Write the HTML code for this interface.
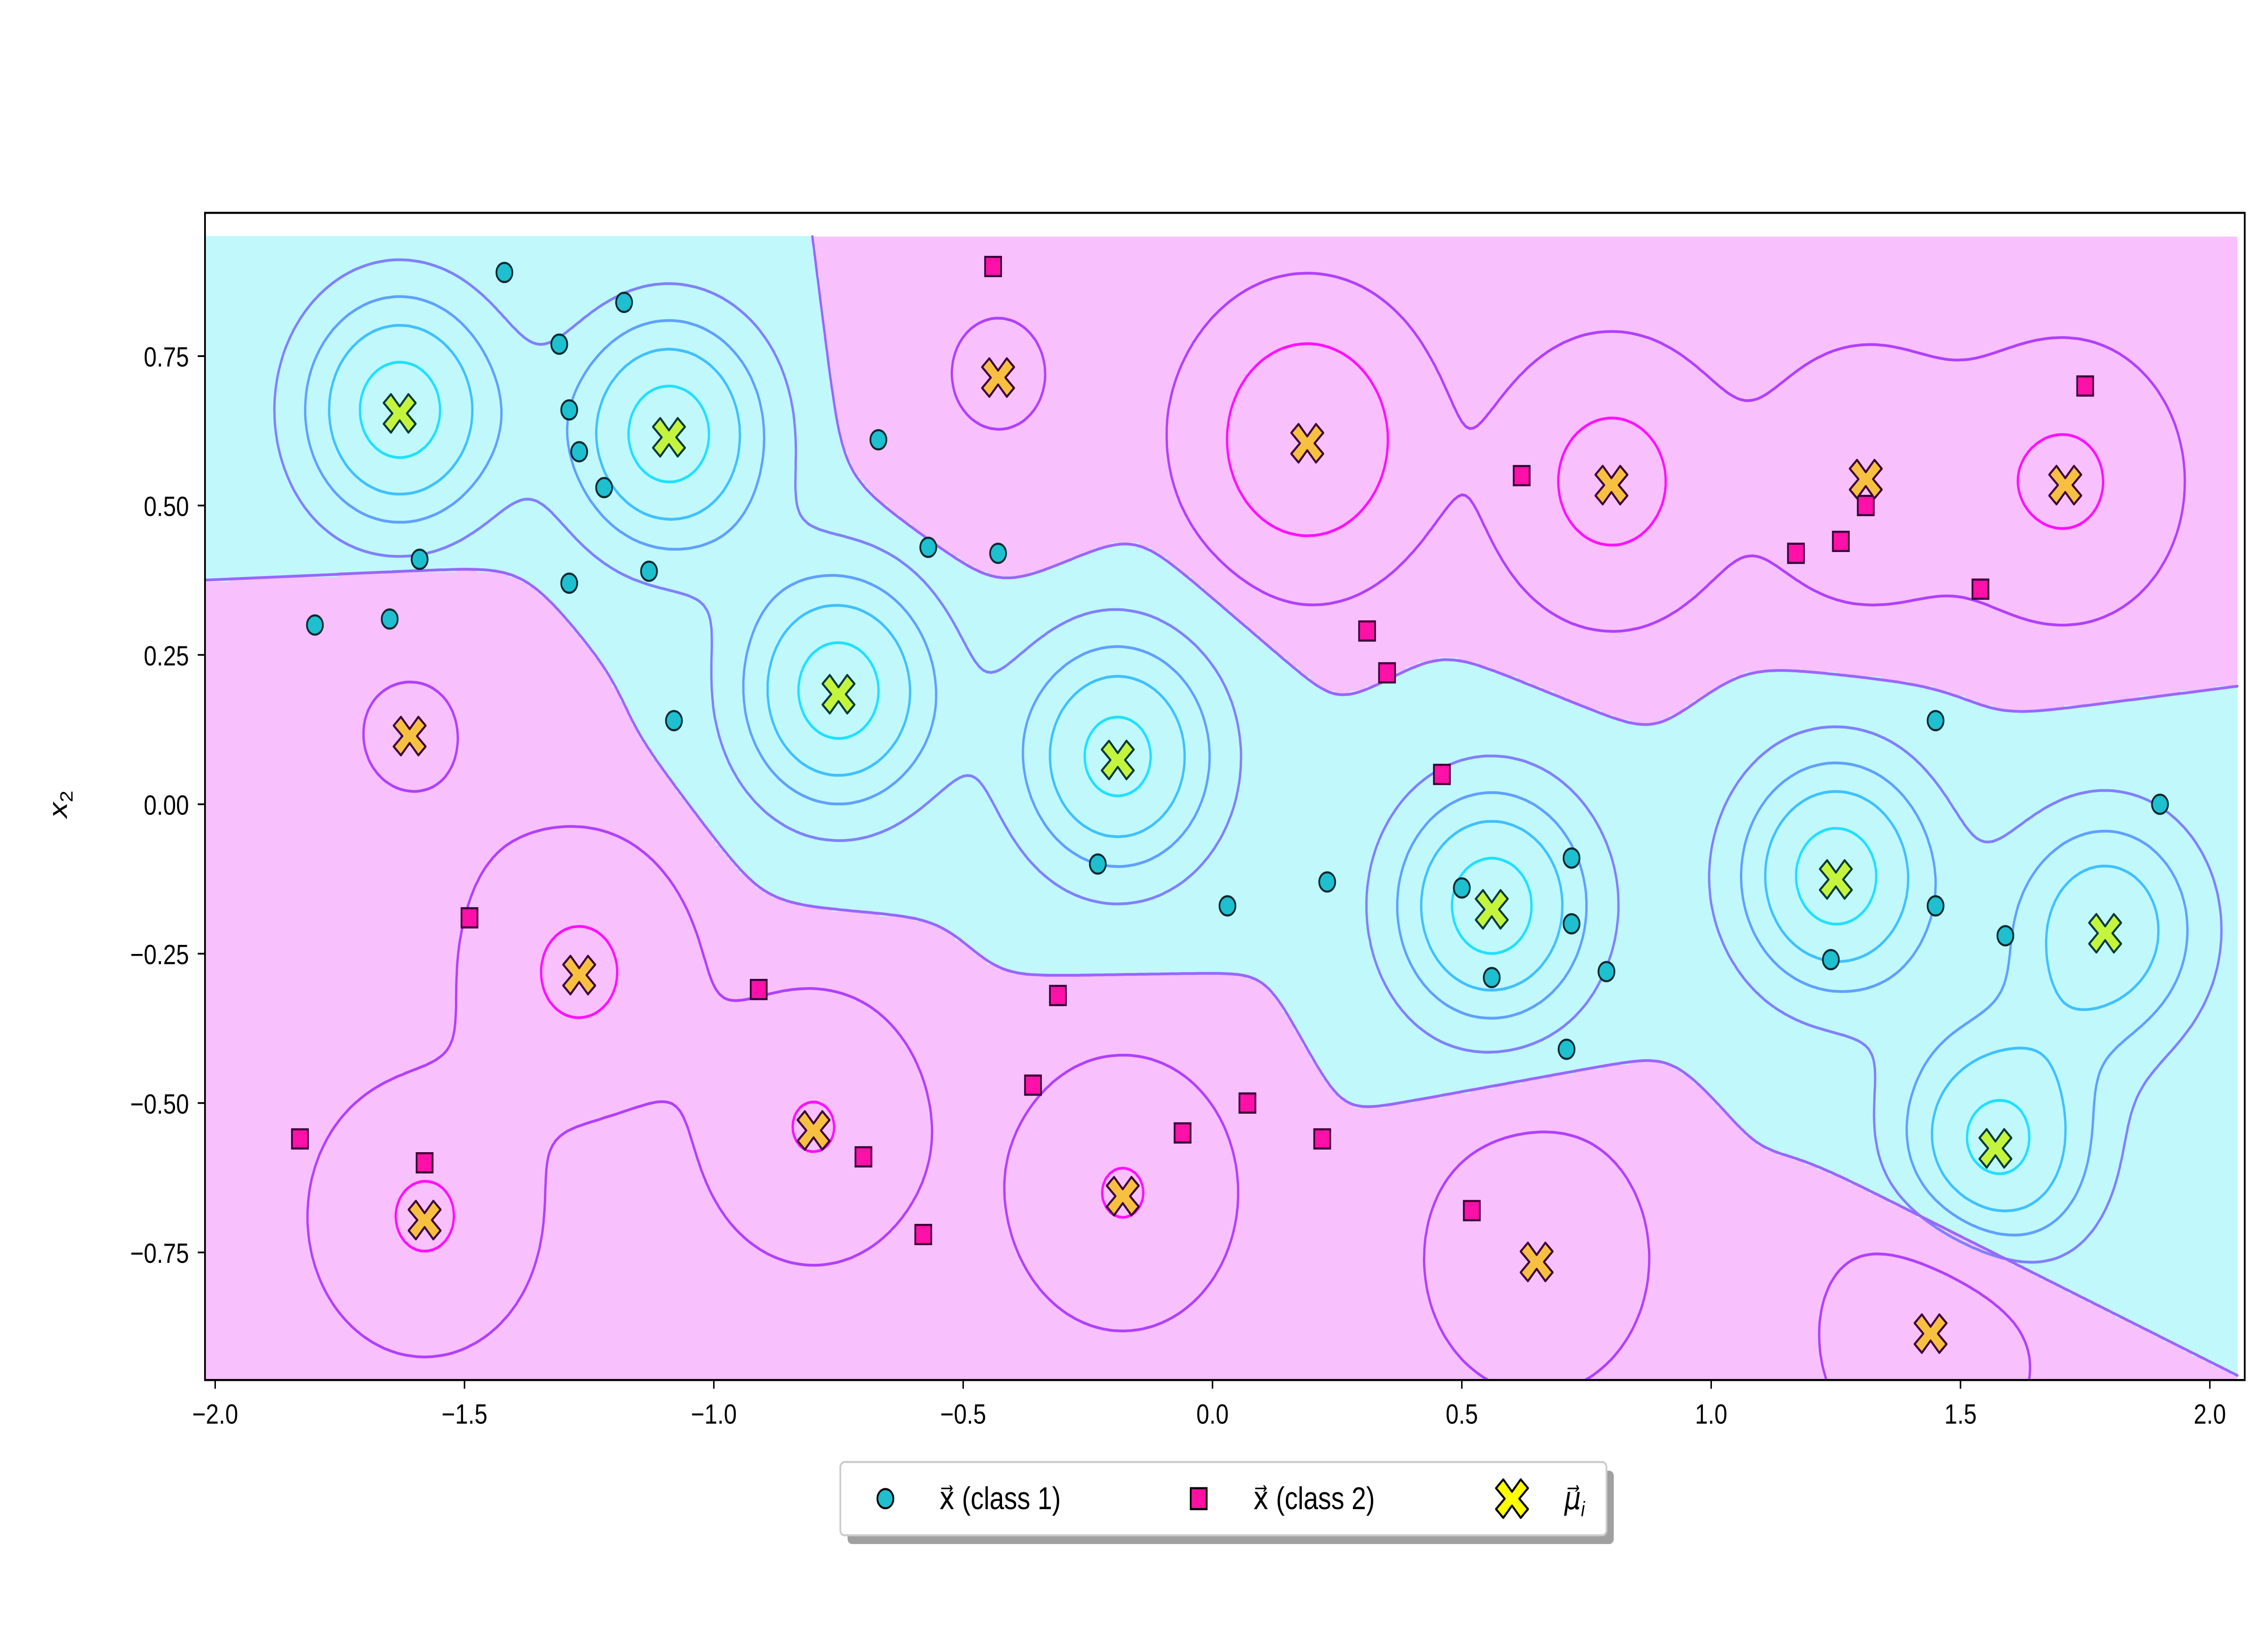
<!DOCTYPE html>
<html><head><meta charset="utf-8"><style>
html,body{margin:0;padding:0;background:#fff;overflow:hidden;width:100vw;height:100vh}
svg{display:block;width:100vw;height:100vh}
text{font-family:"Liberation Sans","DejaVu Sans",sans-serif;fill:#000}
</style></head><body>
<svg id="chart" viewBox="0 0 1560 936" preserveAspectRatio="none" xmlns="http://www.w3.org/2000/svg">
<rect x="0" y="0" width="1560" height="936" fill="#fff"/>
<g id="plot"></g>
<rect x="141" y="122" width="1403" height="669" fill="none" stroke="#000" stroke-width="1.2"/>
<g id="ticks"></g>
<text x="46" y="461" font-size="18" text-anchor="middle" transform="rotate(-90 46 461)" font-style="italic">x<tspan font-size="12" dy="4" font-style="normal">2</tspan></text>
<g id="legend">
  <rect x="583" y="843" width="527" height="42" rx="3" fill="#a0a0a0"/>
  <rect x="578" y="838" width="527" height="42" rx="3" fill="#fff" stroke="#ccc" stroke-width="1.2"/>
  <circle cx="609" cy="859" r="5.5" fill="#1ebfcf" stroke="#000" stroke-width="1.2"/>
  <text x="646" y="865" font-size="18">x⃗ (class 1)</text>
  <rect x="819" y="853" width="11" height="12" fill="#ff10a0" stroke="#000" stroke-width="1.2"/>
  <text x="862" y="865" font-size="18">x⃗ (class 2)</text>
  <path d="M1040,855 l-6,-7 l-5,5 l6,6 l-6,6 l5,5 l6,-7 l6,7 l5,-5 l-6,-6 l6,-6 l-5,-5z" fill="#ffff00" stroke="#000" stroke-width="1.3" stroke-linejoin="round"/>
  <text x="1076" y="865" font-size="18" font-style="italic">μ⃗<tspan font-size="12" dy="4">i</tspan></text>
</g>
</svg>
<script>
const class1X=[-1.42,-1.18,-1.31,-1.29,-1.27,-1.22,-0.67,-1.59,-1.29,-1.13,-0.57,-0.43,-1.80,-1.65,-1.08,-0.23,0.03,0.23,0.50,0.56,0.72,0.72,0.79,0.71,1.45,1.45,1.59,1.24,1.90];
const class1Y=[0.89,0.84,0.77,0.66,0.59,0.53,0.61,0.41,0.37,0.39,0.43,0.42,0.30,0.31,0.14,-0.10,-0.17,-0.13,-0.14,-0.29,-0.09,-0.20,-0.28,-0.41,0.14,-0.17,-0.22,-0.26,0.00];
const class2X=[-0.44,0.62,1.75,1.31,1.26,1.17,1.54,0.31,0.35,0.46,-1.49,-0.91,-0.31,-1.83,-1.58,-0.36,-0.70,-0.06,0.07,0.22,-0.58,0.52];
const class2Y=[0.90,0.55,0.70,0.50,0.44,0.42,0.36,0.29,0.22,0.05,-0.19,-0.31,-0.32,-0.56,-0.60,-0.47,-0.59,-0.55,-0.50,-0.56,-0.72,-0.68];
const center1X=[-1.63,-1.09,-0.75,-0.19,0.56,1.25,1.79,1.57];
const center1Y=[0.66,0.62,0.19,0.08,-0.17,-0.12,-0.21,-0.57];
const center1W=[1,1,1,0.95,1,1,0.8,0.95];
const center2X=[-0.43,0.19,0.80,1.31,1.71,-1.61,-1.27,-0.80,-1.58,-0.18,0.65,1.44];
const center2Y=[0.72,0.61,0.54,0.55,0.54,0.12,-0.28,-0.54,-0.69,-0.65,-0.76,-0.88];
const center2W=[0.15,0.87,0.6,0.4,0.52,0.15,0.52,0.47,0.49,0.47,0.44,0.44];
const xTicks=[-2.0,-1.5,-1.0,-0.5,0.0,0.5,1.0,1.5,2.0];
const xTickLabels=["−2.0","−1.5","−1.0","−0.5","0.0","0.5","1.0","1.5","2.0"];
const yTicks=[-0.75,-0.5,-0.25,0.0,0.25,0.5,0.75];
const yTickLabels=["−0.75","−0.50","−0.25","0.00","0.25","0.50","0.75"];
const contourLevels=[-0.45,-0.12,0.2,0.4,0.6,0.85];
const contourColors=["#ff10ff","#b040ff","#8080ff","#60a0ff","#40c0ff","#20e0ff"];

const NS="http://www.w3.org/2000/svg";
const X=v=>834+343*v, Y=v=>461-342.5*v;
const plot=document.getElementById('plot'), ticks=document.getElementById('ticks');
function mk(tag,attrs,parent){const e=document.createElementNS(NS,tag);for(const k in attrs)e.setAttribute(k,attrs[k]);parent.appendChild(e);return e;}
const S2=2*0.14*0.14;
function sums(x,y){let a=0,b=0,wa=0,wb=0;
  for(let i=0;i<center1X.length;i++){const dx=x-center1X[i],dy=y-center1Y[i];const g=Math.exp(-(dx*dx+dy*dy)/S2);a+=g;wa+=g*center1W[i];}
  for(let i=0;i<center2X.length;i++){const dx=x-center2X[i],dy=y-center2Y[i];const g=Math.exp(-(dx*dx+dy*dy)/S2);b+=g;wb+=g*center2W[i];}
  return [a,b,wa,wb];}
const x0=-2.02,x1=2.055,y0=-0.963,y1=0.95,step=0.008;
const nx=Math.ceil((x1-x0)/step)+1, ny=Math.ceil((y1-y0)/step)+1;
const G=[],R=[];
for(let j=0;j<ny;j++){const y=Math.min(y1,y0+j*step);G.push([]);R.push([]);
  for(let i=0;i<nx;i++){const x=Math.min(x1,x0+i*step);const s=sums(x,y);G[j].push(s[2]-s[3]);R[j].push(Math.log(s[0]+1e-300)-Math.log(s[1]+1e-300));}}
const gx=i=>Math.min(x1,x0+i*step), gy=j=>Math.min(y1,y0+j*step);
const bg=mk('rect',{x:X(x0),y:Y(y1),width:X(x1)-X(x0),height:Y(y0)-Y(y1),fill:'#f8c0fc'},plot);


const fillG=mk('g',{},plot);


for(let j=0;j<ny-1;j++){let start=-1;
  for(let i=0;i<=nx-1;i++){const pos=i<nx-1&&(R[j][i]+R[j+1][i]+R[j][i+1]+R[j+1][i+1])>0;
    if(pos&&start<0)start=i;
    if(!pos&&start>=0){mk('rect',{x:X(gx(start)),y:Y(gy(j+1))-0.3,width:X(gx(i))-X(gx(start))+0.3,height:Y(gy(j))-Y(gy(j+1))+0.6,fill:'#c0f8fc'},fillG);start=-1;}}}
function contour(F,L){let d='';
  for(let j=0;j<ny-1;j++)for(let i=0;i<nx-1;i++){
    const a=F[j][i]-L,b=F[j][i+1]-L,c=F[j+1][i+1]-L,e=F[j+1][i]-L;const pts=[];
    const xa=gx(i),xb=gx(i+1),ya=gy(j),yb=gy(j+1);
    if((a>0)!=(b>0)){const t=a/(a-b);pts.push([xa+t*(xb-xa),ya]);}
    if((b>0)!=(c>0)){const t=b/(b-c);pts.push([xb,ya+t*(yb-ya)]);}
    if((c>0)!=(e>0)){const t=c/(c-e);pts.push([xb+t*(xa-xb),yb]);}
    if((e>0)!=(a>0)){const t=e/(e-a);pts.push([xa,yb+t*(ya-yb)]);}
    for(let k=0;k+1<pts.length;k+=2)d+='M'+X(pts[k][0]).toFixed(1)+' '+Y(pts[k][1]).toFixed(1)+'L'+X(pts[k+1][0]).toFixed(1)+' '+Y(pts[k+1][1]).toFixed(1);}
  return d;}
for(let k=0;k<contourLevels.length;k++){
  const p=mk('path',{d:contour(G,contourLevels[k]),fill:'none',stroke:contourColors[k],'stroke-width':1.6,'stroke-linecap':'round'},plot);
  
  }
const bd=mk('path',{d:contour(R,0),fill:'none',stroke:'#9966ff','stroke-width':1.6,'stroke-linecap':'round'},plot);


for(let i=0;i<class1X.length;i++){
  const c=mk('circle',{cx:X(class1X[i]),cy:Y(class1Y[i]),r:5.5,fill:'#1ebfcf',stroke:'#0a2a30','stroke-width':1.2},plot);
  
  }
for(let i=0;i<class2X.length;i++){
  const c=mk('rect',{x:X(class2X[i])-5.5,y:Y(class2Y[i])-5.5,width:11,height:11,fill:'#ff10a8',stroke:'#3a0038','stroke-width':1.2},plot);
  
  }
function xm(cx,cy){return 'M'+cx+','+(cy-4)+' l-6,-7 l-5,5 l6,6 l-6,6 l5,5 l6,-7 l6,7 l5,-5 l-6,-6 l6,-6 l-5,-5z';}
for(let i=0;i<center1X.length;i++){
  const c=mk('path',{d:xm(X(center1X[i]),Y(center1Y[i])+2),fill:'#c4f53c',stroke:'#033a3a','stroke-width':1.3,'stroke-linejoin':'round'},plot);
  
  }
for(let i=0;i<center2X.length;i++){
  const c=mk('path',{d:xm(X(center2X[i]),Y(center2Y[i])+2),fill:'#f8c040',stroke:'#3a0038','stroke-width':1.3,'stroke-linejoin':'round'},plot);
  
  }
for(let i=0;i<xTicks.length;i++){const x=X(xTicks[i]);
  const t=mk('line',{x1:x,x2:x,y1:791,y2:796,stroke:'#000','stroke-width':1},ticks);
  
  
  const l=mk('text',{x:x,y:816,'font-size':16,'text-anchor':'middle'},ticks);l.textContent=xTickLabels[i];
  
  }
for(let i=0;i<yTicks.length;i++){const y=Y(yTicks[i]);
  const t=mk('line',{x1:136,x2:141,y1:y,y2:y,stroke:'#000','stroke-width':1},ticks);
  
  
  const l=mk('text',{x:130,y:y+6,'font-size':16,'text-anchor':'end'},ticks);l.textContent=yTickLabels[i];
  
  }
</script>
</body></html>
